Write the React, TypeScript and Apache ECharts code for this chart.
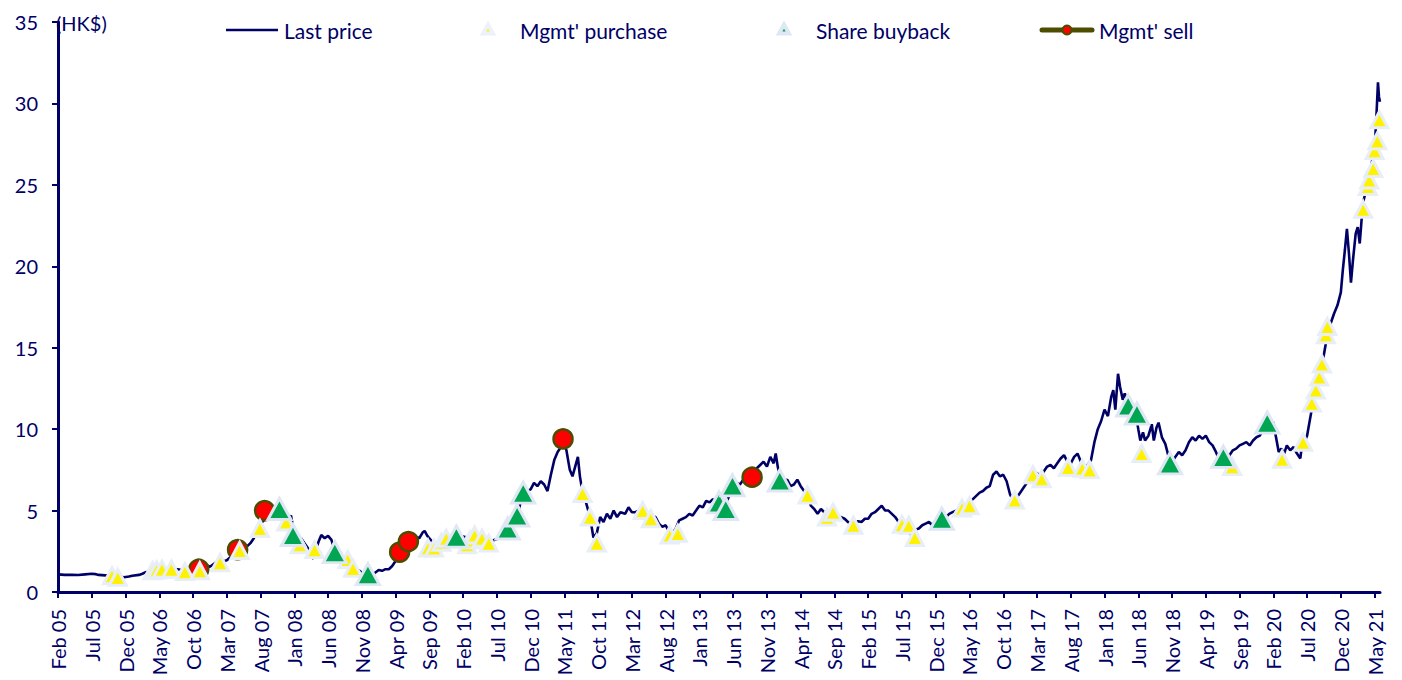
import React, { useEffect, useRef } from "react";
import * as echarts from "echarts";

// x values are months counted from Feb 2005 (0 = Feb 05)
const X_LABELS = [
  "Feb 05", "Jul 05", "Dec 05", "May 06", "Oct 06", "Mar 07", "Aug 07", "Jan 08",
  "Jun 08", "Nov 08", "Apr 09", "Sep 09", "Feb 10", "Jul 10", "Dec 10", "May 11",
  "Oct 11", "Mar 12", "Aug 12", "Jan 13", "Jun 13", "Nov 13", "Apr 14", "Sep 14",
  "Feb 15", "Jul 15", "Dec 15", "May 16", "Oct 16", "Mar 17", "Aug 17", "Jan 18",
  "Jun 18", "Nov 18", "Apr 19", "Sep 19", "Feb 20", "Jul 20", "Dec 20", "May 21",
];
const LABEL_STEP = 5;
const X_MAX = 195.8;
const Y_TICKS = [0, 5, 10, 15, 20, 25, 30, 35];

const LAST_PRICE: [number, number][] = [
  [0, 1.08], [1, 1.05], [2, 1.06], [3, 1.04], [4, 1.08], [5, 1.12], [5.5, 1.1], [6, 1.05],
  [7, 1.02], [8, 0.98], [9, 0.95], [9.8, 0.9], [10.5, 0.95], [11, 1.0], [12, 1.05], [12.5, 1.12],
  [13, 1.22], [13.5, 1.18], [14, 1.3], [15, 1.38], [16, 1.4], [17, 1.42], [18, 1.38], [19, 1.35],
  [20, 1.45], [21, 1.5], [22, 1.65], [22.5, 1.55], [23, 1.7], [23.5, 1.85], [24, 1.8], [25, 1.95],
  [26, 2.3], [27, 2.6], [27.5, 2.75], [28, 2.8], [28.5, 3.0], [29, 3.3], [29.5, 3.8], [30, 4.2],
  [30.5, 4.4], [31, 4.9], [31.5, 4.6], [32, 5.0], [33, 5.1], [34, 4.4], [34.5, 4.7], [35, 3.6],
  [35.5, 3.2], [36, 3.3], [36.5, 3.0], [37, 2.7], [37.5, 2.2], [37.8, 2.05], [38.2, 2.6], [38.6, 3.1],
  [39, 3.5], [39.5, 3.3], [40, 3.45], [40.5, 3.2], [41, 2.5], [42, 2.2], [43, 1.9], [44, 1.5],
  [45, 1.2], [46, 1.0], [46.5, 1.05], [47, 1.2], [47.5, 1.35], [48, 1.3], [48.5, 1.4], [49, 1.4],
  [49.5, 1.6], [50, 1.9], [50.5, 2.3], [51, 2.6], [51.5, 2.95], [52, 3.1], [52.5, 3.3], [53, 3.4],
  [53.5, 3.3], [54, 3.65], [54.3, 3.75], [54.7, 3.45], [55, 3.3], [56, 2.8], [57, 2.8], [58, 3.1],
  [59, 3.35], [60, 3.4], [61, 3.3], [62, 3.4], [63, 3.2], [64, 3.1], [65, 3.25], [66, 3.5],
  [67, 3.9], [68, 4.6], [68.5, 5.5], [69, 6.0], [69.5, 6.2], [70, 6.3], [70.5, 6.7], [71, 6.5],
  [71.5, 6.8], [72, 6.6], [72.5, 6.2], [73, 7.2], [73.5, 8.1], [74, 8.6], [74.5, 8.9], [74.8, 9.35],
  [75.3, 8.7], [75.8, 7.5], [76.2, 7.1], [76.6, 7.7], [77, 8.3], [77.3, 7.1], [77.7, 6.1], [78.2, 5.5],
  [78.8, 4.6], [79.3, 3.35], [79.8, 3.6], [80.3, 4.6], [80.8, 4.3], [81.3, 4.8], [81.8, 4.5], [82.3, 5.0],
  [82.8, 4.6], [83.3, 4.9], [84, 4.8], [84.5, 5.2], [85, 4.9], [85.5, 4.9], [86, 5.0], [86.5, 4.9],
  [87, 4.8], [88, 4.7], [88.5, 4.6], [89, 4.2], [89.5, 4.0], [90, 4.1], [90.5, 3.7], [91, 3.6],
  [91.5, 3.9], [92, 4.4], [92.5, 4.5], [93, 4.6], [93.5, 4.8], [94, 4.7], [94.5, 5.0], [95, 5.3],
  [95.5, 5.2], [96, 5.6], [96.5, 5.5], [97, 5.7], [97.5, 5.5], [98, 5.6], [98.5, 5.3], [99, 5.5],
  [99.5, 6.0], [100, 6.4], [100.5, 6.7], [101, 6.6], [101.5, 6.9], [102, 6.8], [102.5, 7.1], [103, 7.2],
  [103.5, 7.6], [104, 7.8], [104.5, 8.0], [105, 7.7], [105.5, 8.3], [106, 7.9], [106.3, 8.5], [106.6, 7.7],
  [107, 7.0], [107.5, 6.8], [108, 6.9], [108.5, 6.5], [109, 6.6], [109.5, 6.9], [110, 6.5], [110.5, 6.2],
  [111, 5.9], [111.5, 5.3], [112, 5.1], [112.5, 4.8], [113, 5.1], [113.5, 4.9], [114, 4.8], [114.5, 4.7],
  [115, 4.9], [115.5, 4.6], [116, 4.6], [116.5, 4.5], [117, 4.3], [117.5, 4.2], [118, 4.2], [118.5, 4.35],
  [119, 4.3], [119.5, 4.5], [120, 4.5], [120.5, 4.8], [121, 4.9], [121.5, 5.1], [122, 5.3], [122.5, 5.0],
  [123, 5.0], [123.5, 4.8], [124, 4.6], [124.5, 4.3], [125, 4.1], [125.5, 3.9], [126, 3.8], [126.4, 3.45],
  [126.8, 3.8], [127.5, 3.9], [128, 4.1], [128.5, 4.2], [129, 4.3], [129.5, 4.1], [130, 4.4], [131, 4.4],
  [131.5, 4.6], [132, 4.8], [132.5, 4.9], [133, 5.0], [134, 5.2], [134.5, 5.3], [135, 5.5], [135.5, 5.7],
  [136, 5.9], [136.5, 6.1], [137, 6.2], [137.5, 6.4], [138, 6.5], [138.5, 7.2], [139, 7.4], [139.5, 7.1],
  [140, 7.2], [140.5, 6.8], [141, 6.0], [141.5, 5.6], [142, 5.8], [142.5, 6.1], [143, 6.4], [143.5, 6.7],
  [144, 7.0], [144.5, 7.3], [145, 7.3], [145.5, 7.1], [146, 7.4], [146.5, 7.7], [147, 7.8], [147.5, 7.6],
  [148, 7.9], [148.5, 8.2], [149, 8.4], [149.5, 8.0], [150, 7.9], [150.5, 8.3], [151, 8.5], [151.5, 8.0],
  [152, 7.6], [152.5, 7.8], [153, 8.1], [153.5, 9.2], [154, 10.0], [154.5, 10.5], [155, 11.2], [155.5, 10.8],
  [156, 12.0], [156.3, 12.4], [156.6, 11.2], [157, 13.4], [157.3, 12.6], [157.7, 11.8], [158, 12.2], [158.5, 11.5],
  [159, 11.0], [159.5, 11.2], [160, 10.0], [160.3, 9.3], [160.7, 9.8], [161, 9.3], [161.5, 9.6], [162, 10.3],
  [162.3, 9.3], [162.7, 10.1], [163, 10.4], [163.5, 9.5], [164, 9.1], [164.5, 8.3], [165, 8.0], [165.5, 8.3],
  [166, 8.6], [166.5, 8.4], [167, 8.7], [167.5, 9.2], [168, 9.5], [168.5, 9.3], [169, 9.6], [169.5, 9.4],
  [170, 9.6], [170.5, 9.2], [171, 9.0], [171.5, 8.6], [172, 8.1], [172.5, 8.2], [173, 7.8], [173.5, 8.4],
  [174, 8.7], [174.5, 8.8], [175, 9.0], [175.5, 9.1], [176, 9.2], [176.5, 9.0], [177, 9.3], [177.5, 9.5],
  [178, 9.6], [178.5, 10.0], [179, 10.3], [179.5, 10.6], [180, 10.4], [180.4, 9.5], [180.8, 8.6], [181.2, 8.8],
  [181.6, 8.5], [182, 9.0], [182.5, 8.7], [183, 8.9], [183.5, 8.5], [184, 8.2], [184.3, 9.2], [184.7, 9.3],
  [185, 9.6], [185.3, 10.3], [185.6, 11.0], [186, 12.0], [186.5, 12.7], [187, 13.6], [187.5, 14.6], [188, 15.8],
  [188.5, 16.5], [189, 17.1], [189.5, 17.6], [190, 18.4], [190.3, 19.8], [190.6, 21.0], [190.9, 22.3], [191.2, 20.8],
  [191.5, 19.0], [191.8, 20.4], [192.2, 22.0], [192.5, 22.4], [192.8, 21.4], [193.1, 23.0], [193.4, 24.1], [193.7, 24.6],
  [194, 25.4], [194.4, 26.0], [194.8, 26.8], [195.1, 27.9], [195.3, 29.5], [195.5, 31.3], [195.65, 30.4], [195.8, 30.1],
];

const MGMT_PURCHASE: [number, number][] = [
  [8.0, 1.0], [8.85, 0.9], [14.0, 1.3], [14.6, 1.35], [15.4, 1.4], [16.8, 1.4], [18.8, 1.25],
  [21.0, 1.3], [24.0, 1.8], [26.9, 2.55], [29.9, 3.9], [33.8, 4.3], [35.8, 2.9], [38.0, 2.6],
  [42.9, 2.0], [43.7, 1.45], [54.8, 2.7], [55.7, 2.7], [56.8, 3.05], [57.5, 3.3], [60.6, 2.9],
  [61.0, 3.2], [61.7, 3.5], [62.8, 3.3], [63.8, 3.0], [77.7, 6.05], [78.8, 4.6], [79.8, 3.0],
  [86.6, 5.0], [87.8, 4.5], [90.6, 3.5], [91.8, 3.6], [111.0, 5.95], [113.9, 4.6], [114.8, 4.9],
  [117.8, 4.1], [125.0, 4.15], [126.0, 4.1], [126.9, 3.35], [133.9, 5.15], [135.0, 5.3],
  [141.7, 5.65], [144.4, 7.2], [145.7, 6.95], [149.6, 7.65], [151.7, 7.6], [152.8, 7.5],
  [160.5, 8.5], [173.9, 7.7], [181.3, 8.15], [184.4, 9.2], [185.7, 11.6], [186.3, 12.4],
  [186.8, 13.2], [187.2, 14.0], [187.8, 15.8], [188.0, 16.3], [193.3, 23.5], [194.0, 24.9],
  [194.2, 25.3], [194.8, 26.0], [195.0, 27.1], [195.4, 27.7], [195.7, 29.0],
];

const SHARE_BUYBACK: [number, number][] = [
  [32.8, 5.1], [34.8, 3.5], [41.0, 2.45], [45.9, 1.1], [59.0, 3.4], [66.6, 3.9], [68.0, 4.7],
  [68.9, 6.1], [97.9, 5.5], [98.9, 5.1], [99.9, 6.55], [106.9, 6.85], [130.9, 4.5], [158.5, 11.45],
  [159.8, 10.95], [164.7, 7.9], [172.6, 8.3], [179.1, 10.4],
];

const MGMT_SELL: [number, number][] = [
  [20.85, 1.4], [26.6, 2.6], [30.6, 5.0], [50.6, 2.45], [51.9, 3.1], [74.8, 9.4], [102.8, 7.05],
];

const NAVY = "#000066";
const YELLOW = "#fff200";
const GREEN = "#00a651";
const RED = "#ff0000";
const OLIVE = "#4d4d00";
const HALO = "#dfe6f4";
const FONT = "Lato, 'Open Sans', sans-serif";
const FS_AXIS_X = 20;
const FS_AXIS_Y = 20;
const FS_LEGEND = 21;

export default function App() {
  const ref = useRef<HTMLDivElement>(null);

  useEffect(() => {
    if (!ref.current) return;
    const chart = echarts.init(ref.current, null, { renderer: "svg" });
    const tickVals = X_LABELS.map((_, i) => i * LABEL_STEP);

    const legendText = (text: string, x: number) => ({
      type: "text",
      x,
      y: 30,
      style: { text, fill: NAVY, font: `${FS_LEGEND}px ${FONT}`, verticalAlign: "middle", align: "left" },
    });

    chart.setOption({
      animation: false,
      backgroundColor: "#ffffff",
      grid: { left: 58, right: 22, top: 22, bottom: 88, containLabel: false },
      xAxis: {
        type: "value",
        min: 0,
        max: X_MAX,
        interval: LABEL_STEP,
        axisLine: { show: true, lineStyle: { color: NAVY, width: 3 } },
        axisTick: {
          show: true,
          inside: false,
          length: 6,
          customValues: tickVals,
          lineStyle: { color: NAVY, width: 2 },
        },
        axisLabel: {
          customValues: tickVals,
          rotate: 90,
          margin: 17,
          color: NAVY,
          fontSize: FS_AXIS_X,
          fontFamily: FONT,
          formatter: (v: number) => {
            const i = Math.round(v / LABEL_STEP);
            return Math.abs(v - i * LABEL_STEP) < 1e-6 && X_LABELS[i] ? X_LABELS[i] : "";
          },
        },
        splitLine: { show: false },
      },
      yAxis: {
        type: "value",
        min: Y_TICKS[0],
        max: Y_TICKS[Y_TICKS.length - 1],
        interval: 5,
        axisLine: { show: true, lineStyle: { color: NAVY, width: 3 } },
        axisTick: { show: true, inside: false, length: 6, lineStyle: { color: NAVY, width: 2 } },
        axisLabel: { color: NAVY, fontSize: FS_AXIS_Y, fontFamily: FONT, margin: 20 },
        splitLine: { show: false },
      },
      graphic: [
        {
          type: "text",
          x: 56,
          y: 23,
          style: { text: "(HK$)", fill: NAVY, font: `${FS_AXIS_Y}px ${FONT}`, verticalAlign: "middle", align: "left" },
        },
        { type: "line", shape: { x1: 226, y1: 30, x2: 278, y2: 30 }, style: { stroke: NAVY, lineWidth: 2.5 } },
        legendText("Last price", 284),
        {
          type: "polygon",
          shape: { points: [[488, 24.5], [493, 33.5], [483, 33.5]] },
          style: { fill: YELLOW, stroke: "#edf1f9", lineWidth: 4, lineJoin: "miter" },
        },
        legendText("Mgmt' purchase", 520),
        {
          type: "polygon",
          shape: { points: [[784, 24.5], [789, 33.5], [779, 33.5]] },
          style: { fill: GREEN, stroke: HALO, lineWidth: 4, lineJoin: "miter" },
        },
        legendText("Share buyback", 816),
        {
          type: "line",
          shape: { x1: 1042, y1: 30, x2: 1092, y2: 30 },
          style: { stroke: OLIVE, lineWidth: 5, lineCap: "round" },
        },
        { type: "circle", shape: { cx: 1067, cy: 30, r: 4.5 }, style: { fill: RED, stroke: OLIVE, lineWidth: 2 } },
        legendText("Mgmt' sell", 1099),
      ],
      series: [
        {
          name: "Last price",
          type: "line",
          data: LAST_PRICE,
          showSymbol: false,
          symbol: "none",
          lineStyle: { color: NAVY, width: 2.6 },
          z: 2,
        },
        {
          name: "Mgmt' sell",
          type: "scatter",
          data: MGMT_SELL,
          symbol: "circle",
          symbolSize: 19,
          itemStyle: { color: RED, borderColor: OLIVE, borderWidth: 2.5, opacity: 1 },
          z: 3,
        },
        {
          name: "Mgmt' purchase",
          type: "scatter",
          data: MGMT_PURCHASE,
          symbol: "triangle",
          symbolSize: [17, 16],
          itemStyle: { color: YELLOW, borderColor: "#e8eef8", borderWidth: 3, opacity: 1 },
          z: 4,
        },
        {
          name: "Share buyback",
          type: "scatter",
          data: SHARE_BUYBACK,
          symbol: "triangle",
          symbolSize: [23, 21],
          itemStyle: { color: GREEN, borderColor: HALO, borderWidth: 3, opacity: 1 },
          z: 5,
        },
      ],
    });

    return () => chart.dispose();
  }, []);

  return (
    <div
      ref={ref}
      style={{ position: "fixed", left: 0, top: 0, width: 1402, height: 680, background: "#fff" }}
    />
  );
}
